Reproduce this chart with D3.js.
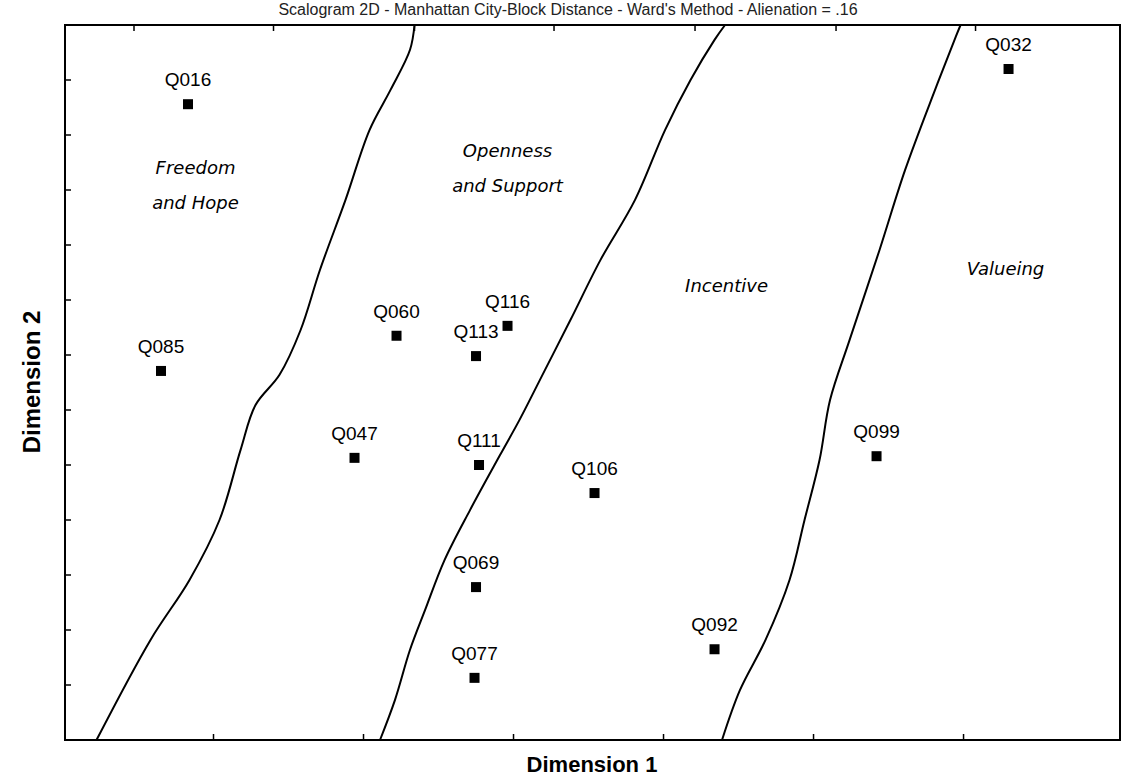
<!DOCTYPE html><html><head><script src="https://cdn.jsdelivr.net/npm/d3@7"></script>
<style>body{margin:0;background:#fff}</style></head><body><svg id="c" width="1135" height="777"></svg>
<script>
const labels=["Q016","Q085","Q060","Q116","Q113","Q047","Q111","Q106","Q069","Q077","Q092","Q099","Q032"];
const dim1=[0.82,0.64,2.21,2.95,2.74,1.93,2.76,3.53,2.74,2.73,4.33,5.41,6.29];
const dim2=[11.56,6.71,7.35,7.53,6.98,5.13,5.0,4.49,2.78,1.13,1.65,5.16,12.2];
const bound1x=[0.21,0.57,0.83,1.03,1.17,1.27,1.43,1.57,1.7,1.87,2.03,2.17,2.3,2.33];
const bound1y=[0,1.82,2.91,4.0,5.27,6.09,6.64,7.45,8.55,9.82,11.09,11.82,12.55,13.0];
const bound2x=[2.1,2.2,2.3,2.4,2.53,2.7,2.9,3.03,3.2,3.37,3.57,3.8,4.0,4.17,4.33,4.4];
const bound2y=[0,0.73,1.64,2.36,3.27,4.18,5.18,5.82,6.73,7.64,8.73,9.82,11.09,12.0,12.73,13.0];
const bound3x=[4.38,4.5,4.67,4.83,4.93,5.03,5.1,5.23,5.43,5.6,5.8,5.93,5.97];
const bound3y=[0,0.91,1.82,2.91,4.0,5.09,6.18,7.27,8.91,10.36,11.82,12.73,13.0];
const regions=[["Freedom","and Hope",0.87,10.3],["Openness","and Support",2.95,10.6],["Incentive",4.41,8.15],["Valueing",6.27,8.45]];
const svg=d3.select("#c");
const x=d3.scaleLinear().domain([0,7.033]).range([65,1120]);
const y=d3.scaleLinear().domain([0,13]).range([740,25]);
const g=svg.append("g");
g.append("rect").attr("x",65).attr("y",25).attr("width",1055).attr("height",715).attr("fill","none").attr("stroke","#000").attr("stroke-width",2);
[1,2,3,4,5,6].forEach(t=>g.append("line").attr("x1",x(t-0.01)).attr("x2",x(t-0.01)).attr("y1",740).attr("y2",734).attr("stroke","#000").attr("stroke-width",1.5));
[0.46,1.39,2.33,3.26,4.2,5.14,6.07].forEach(t=>g.append("line").attr("x1",x(t)).attr("x2",x(t)).attr("y1",25).attr("y2",31).attr("stroke","#000").attr("stroke-width",1.5));
d3.range(1,13).forEach(t=>g.append("line").attr("x1",65).attr("x2",71).attr("y1",y(t)).attr("y2",y(t)).attr("stroke","#000").attr("stroke-width",1.5));
const line=d3.line().x(d=>x(d[0])).y(d=>y(d[1])).curve(d3.curveCatmullRom);
[[bound1x,bound1y],[bound2x,bound2y],[bound3x,bound3y]].forEach(([bx,by])=>g.append("path").attr("d",line(bx.map((v,i)=>[v,by[i]]))).attr("fill","none").attr("stroke","#000").attr("stroke-width",2));
labels.forEach((l,i)=>{
 g.append("rect").attr("x",x(dim1[i])-5).attr("y",y(dim2[i])-5).attr("width",10).attr("height",10).attr("fill","#000");
 g.append("text").attr("x",x(dim1[i])).attr("y",y(dim2[i])-18).attr("text-anchor","middle").attr("font-family","Liberation Sans, Arial").attr("font-size",19).text(l);
});
regions.forEach(r=>{
 const t=g.append("text").attr("text-anchor","middle").attr("font-family","DejaVu Sans").attr("font-style","italic").attr("font-size",18).attr("x",x(r[r.length-2])).attr("y",y(r[r.length-1]));
 t.append("tspan").attr("x",x(r[r.length-2])).text(r[0]);
 if(r.length===4&&typeof r[1]==="string") t.append("tspan").attr("x",x(r[r.length-2])).attr("dy",35).text(r[1]);
});
svg.append("text").attr("x",568).attr("y",15).attr("text-anchor","middle").attr("font-family","Liberation Sans, Arial").attr("font-size",16).attr("fill","#222").text("Scalogram 2D - Manhattan City-Block Distance - Ward's Method - Alienation = .16");
svg.append("text").attr("x",592).attr("y",772).attr("text-anchor","middle").attr("font-family","Liberation Sans, Arial").attr("font-weight","bold").attr("font-size",22).text("Dimension 1");
svg.append("text").attr("transform","translate(40,382) rotate(-90)").attr("text-anchor","middle").attr("font-family","Liberation Sans, Arial").attr("font-weight","bold").attr("font-size",24).text("Dimension 2");
</script></body></html>
